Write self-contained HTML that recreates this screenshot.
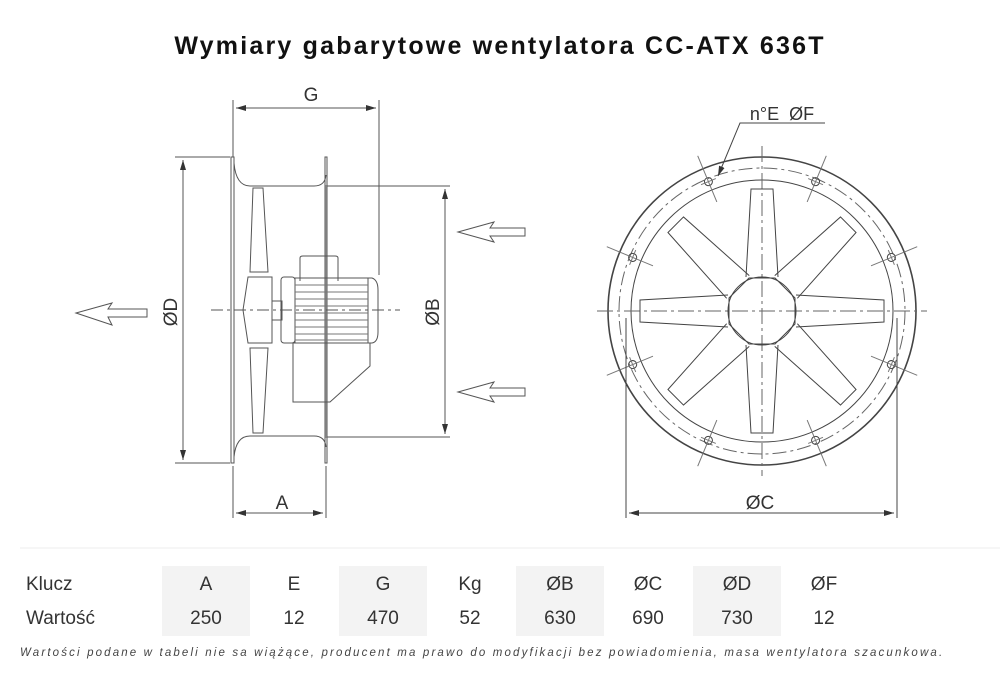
<!DOCTYPE html>
<html><head><meta charset="utf-8"><style>
body{margin:0;background:#fff;width:1000px;height:684px;overflow:hidden;font-family:"Liberation Sans",sans-serif}
svg{position:absolute;left:0;top:0}
</style></head><body>
<svg width="1000" height="684" viewBox="0 0 1000 684">
<defs>
<marker id="ar" viewBox="0 0 10 6" refX="10" refY="3" markerWidth="10" markerHeight="6" orient="auto-start-reverse" markerUnits="userSpaceOnUse"><path d="M0,0L10,3L0,6z" fill="#333"/></marker>
</defs>
<text x="500" y="54" text-anchor="middle" font-family="Liberation Sans" font-weight="bold" font-size="25" letter-spacing="2.2" fill="#111">Wymiary gabarytowe wentylatora CC-ATX 636T</text>
<g stroke="#555" fill="none" stroke-width="1">
<line x1="233" y1="100" x2="233" y2="157"/>
<line x1="379" y1="100" x2="379" y2="275"/>
<line x1="236" y1="108" x2="376" y2="108" marker-start="url(#ar)" marker-end="url(#ar)"/>
<line x1="175" y1="157" x2="230" y2="157"/>
<line x1="175" y1="463" x2="230" y2="463"/>
<line x1="183" y1="160" x2="183" y2="460" marker-start="url(#ar)" marker-end="url(#ar)"/>
<line x1="325" y1="186" x2="450" y2="186"/>
<line x1="325" y1="437" x2="450" y2="437"/>
<line x1="445" y1="189" x2="445" y2="434" marker-start="url(#ar)" marker-end="url(#ar)"/>
<line x1="233" y1="466" x2="233" y2="518"/>
<line x1="326" y1="466" x2="326" y2="518"/>
<line x1="236" y1="513" x2="323" y2="513" marker-start="url(#ar)" marker-end="url(#ar)"/>
<rect x="231" y="157" width="3" height="306"/>
<rect x="325" y="157" width="2" height="306"/>
<path d="M234,163 Q236,186 250,186 L314,186 Q325,186 326,175"/>
<path d="M234,457 Q236,436 250,436 L314,436 Q325,436 326,447"/>
<line x1="326" y1="186" x2="326" y2="437" stroke="#aaa"/>
<path d="M253,188 L263,188 L268,272 L250,272 Z"/>
<path d="M250,348 L268,348 L263,433 L253,433 Z"/>
<path d="M248,277 L272,277 L272,343 L248,343 L243,310 Z"/>
<rect x="272" y="301" width="10" height="19"/>
<rect x="281" y="277" width="14" height="66" rx="3"/>
<rect x="295" y="278" width="73" height="65"/>
<path d="M368,278 L372,278 Q378,280 378,290 L378,332 Q378,342 372,343 L368,343"/>
<path d="M300,281 L300,258 Q300,256 303,256 L335,256 Q338,256 338,258 L338,281"/>
<g stroke="#777"><line x1="295" y1="285" x2="368" y2="285"/><line x1="295" y1="292" x2="368" y2="292"/><line x1="295" y1="299" x2="368" y2="299"/><line x1="295" y1="306" x2="368" y2="306"/><line x1="295" y1="313" x2="368" y2="313"/><line x1="295" y1="320" x2="368" y2="320"/><line x1="295" y1="327" x2="368" y2="327"/><line x1="295" y1="334" x2="368" y2="334"/><line x1="295" y1="340" x2="368" y2="340"/></g>
<path d="M293,343 L370,343 L370,366 L330,402 L293,402 Z"/>
<line x1="211" y1="310" x2="400" y2="310" stroke-dasharray="12,4,3,4"/>
<path d="M76,313 L112,303 L108,309 L147,309 L147,317 L108,317 L112,325 Z"/>
<path d="M458,232 L494,222 L490,228 L525,228 L525,236 L490,236 L494,242 Z"/>
<path d="M458,392 L494,382 L490,388 L525,388 L525,396 L490,396 L494,402 Z"/>
</g>
<text x="311" y="101" text-anchor="middle" font-size="19" fill="#333">G</text>
<text x="282" y="509" text-anchor="middle" font-size="19" fill="#333">A</text>
<text transform="translate(177,312) rotate(-90)" text-anchor="middle" font-size="19" fill="#333">ØD</text>
<text transform="translate(439,312) rotate(-90)" text-anchor="middle" font-size="19" fill="#333">ØB</text>
<g transform="translate(762,311)" stroke="#444" fill="none" stroke-width="1">
<circle r="154" stroke-width="1.6"/>
<circle r="131"/>
<circle r="143" stroke-dasharray="14,4,3,4" stroke="#666"/>
<line x1="-165" y1="0" x2="165" y2="0" stroke-dasharray="16,4,3,4" stroke="#666"/>
<line x1="0" y1="-165" x2="0" y2="165" stroke-dasharray="16,4,3,4" stroke="#666"/>
<g id="bl"><path d="M-16,-34 L-11,-122 L11,-122 L16,-34"/></g>
<use href="#bl" transform="rotate(45)"/><use href="#bl" transform="rotate(90)"/><use href="#bl" transform="rotate(135)"/>
<use href="#bl" transform="rotate(180)"/><use href="#bl" transform="rotate(225)"/><use href="#bl" transform="rotate(270)"/><use href="#bl" transform="rotate(315)"/>
<polygon points="13,-33 33,-13 33,13 13,33 -13,33 -33,13 -33,-13 -13,-33"/>
<circle r="34"/>
<g id="bh" transform="rotate(22.5)"><circle cx="0" cy="-140" r="4"/><line x1="0" y1="-168" x2="0" y2="-118" stroke="#777"/><line x1="-8" y1="-140" x2="8" y2="-140" stroke="#777"/></g>
<use href="#bh" transform="rotate(45)"/><use href="#bh" transform="rotate(90)"/><use href="#bh" transform="rotate(135)"/>
<use href="#bh" transform="rotate(180)"/><use href="#bh" transform="rotate(225)"/><use href="#bh" transform="rotate(270)"/><use href="#bh" transform="rotate(315)"/>
</g>
<g stroke="#444" fill="none">
<line x1="626" y1="318" x2="626" y2="518"/>
<line x1="897" y1="318" x2="897" y2="518"/>
<line x1="629" y1="513" x2="894" y2="513" marker-start="url(#ar)" marker-end="url(#ar)"/>
<path d="M825,123 L740,123 L718,176" marker-end="url(#ar)"/>
</g>
<text x="760" y="509" text-anchor="middle" font-size="19" fill="#333">ØC</text>
<text x="782" y="120" text-anchor="middle" font-size="18" fill="#333">n°E&#160; ØF</text>
<line x1="20" y1="548" x2="1000" y2="548" stroke="#eee"/>
<g fill="#f3f3f3"><rect x="162" y="566" width="88" height="70"/><rect x="339" y="566" width="88" height="70"/><rect x="516" y="566" width="88" height="70"/><rect x="693" y="566" width="88" height="70"/></g>
<g font-size="19" fill="#333" text-anchor="middle">
<text x="26" y="590" text-anchor="start">Klucz</text><text x="26" y="624" text-anchor="start">Wartość</text>
<text x="206" y="590">A</text><text x="294" y="590">E</text><text x="383" y="590">G</text><text x="470" y="590">Kg</text><text x="560" y="590">ØB</text><text x="648" y="590">ØC</text><text x="737" y="590">ØD</text><text x="824" y="590">ØF</text>
<text x="206" y="624">250</text><text x="294" y="624">12</text><text x="383" y="624">470</text><text x="470" y="624">52</text><text x="560" y="624">630</text><text x="648" y="624">690</text><text x="737" y="624">730</text><text x="824" y="624">12</text>
</g>
<text x="20" y="656" font-size="11.5" font-style="italic" fill="#444" letter-spacing="2.15">Wartości podane w tabeli nie sa wiążące, producent ma prawo do modyfikacji bez powiadomienia, masa wentylatora szacunkowa.</text>
</svg>
</body></html>
